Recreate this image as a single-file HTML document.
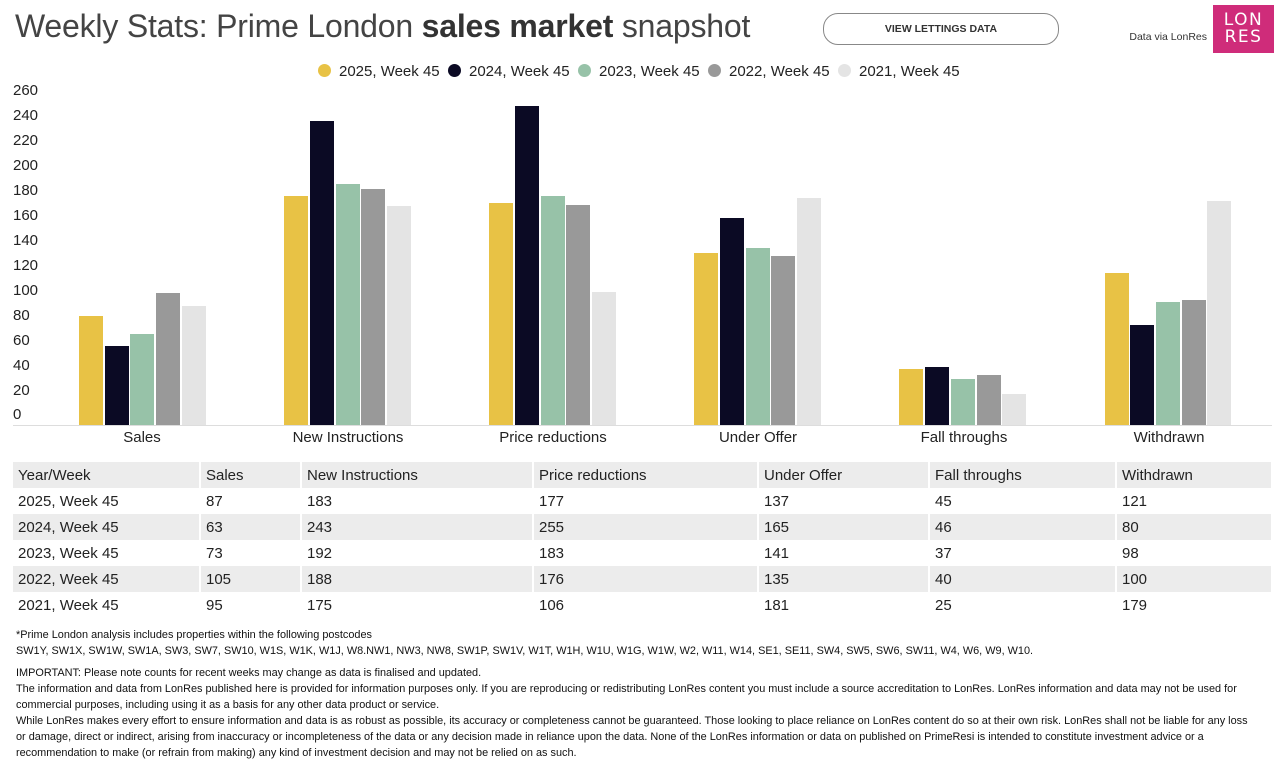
<!DOCTYPE html>
<html><head><meta charset="utf-8"><style>
body{margin:0;width:1280px;height:764px;background:#fff;font-family:"Liberation Sans",sans-serif;position:relative;overflow:hidden;color:#222}
.a{position:absolute}
.yl{position:absolute;left:13px;font-size:15px;color:#222}
.bar{position:absolute;width:24px}
.cat{position:absolute;top:429px;font-size:15px;text-align:center;width:200px;color:#222}
table{position:absolute;left:13px;top:462px;width:1259px;border-collapse:collapse;table-layout:fixed;font-size:15px}
td{height:26px;padding:0 0 0 5px;box-sizing:border-box;border-right:2px solid #fff}
tr.g td{background:#ececec}
.leg{position:absolute;top:63px;font-size:15px;color:#222}
.dot{display:inline-block;width:13px;height:13px;border-radius:50%;vertical-align:-1px;margin-right:8px}
.fn{position:absolute;left:16px;width:1262px;white-space:nowrap;font-size:10.9px;color:#111;line-height:16px}
</style></head><body>
<div class="a" style="left:15px;top:8px;font-size:32px;color:#444;letter-spacing:-0.2px">Weekly Stats: Prime London <b style="color:#333">sales market</b> snapshot</div>
<div class="a" style="left:823px;top:13px;width:234px;height:30px;border:1.5px solid #888;border-radius:15px;font-size:10.5px;text-align:center;line-height:31px;color:#333;font-weight:bold">VIEW LETTINGS DATA</div>
<div class="a" style="left:1100px;width:107px;text-align:right;top:31px;font-size:10.5px;color:#333">Data via LonRes</div>
<div class="a" style="left:1213px;top:5px;width:61px;height:48px;background:#cf2c7a;color:#fff;font-size:17px;line-height:17px;text-align:center;padding-top:7px;box-sizing:border-box;letter-spacing:1.5px;font-family:'DejaVu Sans',sans-serif">LON<br>RES</div>
<div class="leg" style="left:318px"><span class="dot" style="background:#e8c245"></span>2025, Week 45</div>
<div class="leg" style="left:448px"><span class="dot" style="background:#0b0a24"></span>2024, Week 45</div>
<div class="leg" style="left:578px"><span class="dot" style="background:#97c2a8"></span>2023, Week 45</div>
<div class="leg" style="left:708px"><span class="dot" style="background:#999"></span>2022, Week 45</div>
<div class="leg" style="left:838px"><span class="dot" style="background:#e4e4e4"></span>2021, Week 45</div>
<div class="yl" style="top:82px">260</div><div class="yl" style="top:107px">240</div><div class="yl" style="top:132px">220</div><div class="yl" style="top:157px">200</div><div class="yl" style="top:182px">180</div><div class="yl" style="top:207px">160</div><div class="yl" style="top:232px">140</div><div class="yl" style="top:257px">120</div><div class="yl" style="top:282px">100</div><div class="yl" style="top:307px">80</div><div class="yl" style="top:332px">60</div><div class="yl" style="top:357px">40</div><div class="yl" style="top:382px">20</div><div class="yl" style="top:406px">0</div>
<div class="a" style="left:13px;top:425px;width:1259px;height:1px;background:#ddd"></div>
<div id="bars"></div>
<div class="cat" style="left:42px">Sales</div><div class="cat" style="left:248px">New Instructions</div><div class="cat" style="left:453px">Price reductions</div><div class="cat" style="left:658px">Under Offer</div><div class="cat" style="left:864px">Fall throughs</div><div class="cat" style="left:1069px">Withdrawn</div>
<table>
<colgroup><col style="width:187px"><col style="width:101px"><col style="width:232px"><col style="width:225px"><col style="width:171px"><col style="width:187px"><col style="width:156px"></colgroup>
<tr class="g"><td>Year/Week</td><td>Sales</td><td>New Instructions</td><td>Price reductions</td><td>Under Offer</td><td>Fall throughs</td><td>Withdrawn</td></tr>
<tr><td>2025, Week 45</td><td>87</td><td>183</td><td>177</td><td>137</td><td>45</td><td>121</td></tr>
<tr class="g"><td>2024, Week 45</td><td>63</td><td>243</td><td>255</td><td>165</td><td>46</td><td>80</td></tr>
<tr><td>2023, Week 45</td><td>73</td><td>192</td><td>183</td><td>141</td><td>37</td><td>98</td></tr>
<tr class="g"><td>2022, Week 45</td><td>105</td><td>188</td><td>176</td><td>135</td><td>40</td><td>100</td></tr>
<tr><td>2021, Week 45</td><td>95</td><td>175</td><td>106</td><td>181</td><td>25</td><td>179</td></tr>
</table>
<div class="fn" style="top:627px">*Prime London analysis includes properties within the following postcodes<br>SW1Y, SW1X, SW1W, SW1A, SW3, SW7, SW10, W1S, W1K, W1J, W8.NW1, NW3, NW8, SW1P, SW1V, W1T, W1H, W1U, W1G, W1W, W2, W11, W14, SE1, SE11, SW4, SW5, SW6, SW11, W4, W6, W9, W10.</div>
<div class="fn" style="top:665px">IMPORTANT: Please note counts for recent weeks may change as data is finalised and updated.<br>The information and data from LonRes published here is provided for information purposes only. If you are reproducing or redistributing LonRes content you must include a source accreditation to LonRes. LonRes information and data may not be used for<br>commercial purposes, including using it as a basis for any other data product or service.<br>While LonRes makes every effort to ensure information and data is as robust as possible, its accuracy or completeness cannot be guaranteed. Those looking to place reliance on LonRes content do so at their own risk. LonRes shall not be liable for any loss<br>or damage, direct or indirect, arising from inaccuracy or incompleteness of the data or any decision made in reliance upon the data. None of the LonRes information or data on published on PrimeResi is intended to constitute investment advice or a<br>recommendation to make (or refrain from making) any kind of investment decision and may not be relied on as such.</div>
<script>
var d=[[87,63,73,105,95],[183,243,192,188,175],[177,255,183,176,106],[137,165,141,135,181],[45,46,37,40,25],[121,80,98,100,179]];
var c=["#e8c245","#0b0a24","#97c2a8","#999","#e4e4e4"];var h="";
for(var g=0;g<6;g++)for(var i=0;i<5;i++){var v=d[g][i]*1.253;var x=79+g*205.1+i*25.7;
h+='<div class="bar" style="left:'+x.toFixed(1)+'px;top:'+(425-v).toFixed(1)+'px;height:'+v.toFixed(1)+'px;background:'+c[i]+'"></div>';}
document.getElementById("bars").innerHTML=h;
</script>
</body></html>
